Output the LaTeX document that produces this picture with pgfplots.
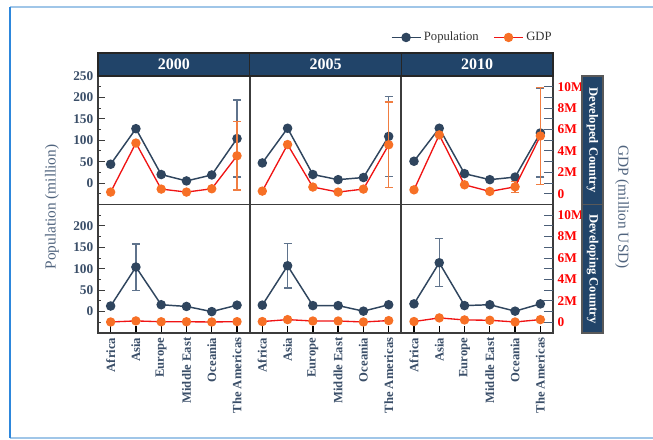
\documentclass[border=0pt]{standalone}
\usepackage{fontspec}
\setmainfont{Liberation Serif}
\usepackage{pgfplots}
\usepackage{pgfplotstable}
\pgfplotsset{compat=1.18}

\definecolor{popc}{RGB}{47,69,94}
\definecolor{poperrc}{RGB}{95,115,140}
\definecolor{gdpline}{RGB}{240,20,20}
\definecolor{gdpm}{RGB}{247,112,38}
\definecolor{gdperrc}{RGB}{240,125,65}
\definecolor{navy}{RGB}{33,68,105}
\definecolor{labc}{RGB}{58,78,104}
\definecolor{titc}{RGB}{80,100,126}
\definecolor{axgray}{RGB}{60,60,60}
\definecolor{rtick}{RGB}{75,95,120}
\definecolor{framec}{RGB}{160,198,232}
\definecolor{frameL}{RGB}{45,135,220}

% developed countries
\pgfplotstableread{
x pop poperr gdp gdperr
0 44 0 0.16 0
1 127 0 4.74 0
2 20 0 0.44 0
3 5 0 0.16 0
4 19 0 0.47 0
5 104 90 3.55 3.2
}\devA
\pgfplotstableread{
x pop poperr gdp gdperr
0 47 0 0.25 0
1 128 0 4.60 0
2 20 0 0.63 0
3 8 0 0.16 0
4 13 0 0.44 0
5 109 94 4.58 4.0
}\devB
\pgfplotstableread{
x pop poperr gdp gdperr
0 51 0 0.37 0
1 128 0 5.50 0
2 22 0 0.84 0
3 8 0 0.22 0
4 14 0 0.65 0.5
5 117 103 5.40 4.5
}\devC
% developing countries
\pgfplotstableread{
x pop poperr gdp gdperr
0 13 0 0.03 0
1 104 54 0.13 0
2 16 0 0.05 0
3 12 0 0.05 0
4 0 0 0.03 0
5 15 0 0.06 0
}\dvgA
\pgfplotstableread{
x pop poperr gdp gdperr
0 15 0 0.07 0
1 107 52 0.25 0
2 14 0 0.12 0
3 14 0 0.12 0
4 1 0 0.03 0
5 16 0 0.16 0
}\dvgB
\pgfplotstableread{
x pop poperr gdp gdperr
0 18 0 0.07 0
1 114 56 0.41 0
2 14 0 0.22 0
3 16 0 0.19 0
4 1 0 0.03 0
5 18 0 0.25 0
}\dvgC

\pgfplotsset{
  panel/.style={scale only axis, width=113.75pt, height=96.375pt,
    xmin=-0.5, xmax=5.5, clip=false,
    /pgf/number format/assume math mode=true,
    tick label style={font=\fontsize{10}{11}\selectfont\bfseries},
    tick align=inside},
  popax/.style={panel, ymin=-50, ymax=250,
    axis line style={draw=axgray, line width=1.4pt},
    ytick={0,50,...,250}, minor ytick={-25,25,...,225}, ytick pos=left,
    yticklabel style={text=labc},
    major tick length=5pt, minor tick length=2.6pt,
    y tick style={draw=axgray, line width=0.8pt}},
  gdpax/.style={panel, ymin=-1, ymax=11, axis x line=none, axis y line*=right,
    axis line style={draw=none},
    ytick={0,2,...,10}, yticklabels={0,2M,4M,6M,8M,10M}, minor ytick={1,3,...,9},
    yticklabel style={text=red},
    major tick length=6.5pt, minor tick length=6.5pt,
    y tick style={draw=rtick, line width=0.8pt}},
  noy/.style={ytick=\empty, minor ytick=\empty},
  topx/.style={xtick=\empty},
  botx/.style={xtick={0,...,5},
    xticklabels={Africa,Asia,Europe,Middle East,Oceania,The Americas},
    xtick pos=bottom,
    x tick label style={rotate=90, anchor=east, text=labc,
      font=\fontsize{9.5}{11}\selectfont\bfseries},
    x tick style={draw=black, line width=1pt}},
  popline/.style={popc, line width=1.1pt, mark=*, mark size=3pt,
    mark options={fill=popc, draw=popc}},
  gdpl/.style={gdpline, line width=1pt, mark=*, mark size=3pt,
    mark options={fill=gdpm, draw=gdpm}},
  poperr/.style={draw=none, forget plot, error bars/.cd, y dir=both, y explicit,
    error bar style={draw=poperrc, line width=0.9pt},
    error mark options={rotate=90, mark size=3pt, draw=poperrc, line width=0.9pt}},
  gdperr/.style={draw=none, forget plot, error bars/.cd, y dir=both, y explicit,
    error bar style={draw=gdperrc, line width=0.9pt},
    error mark options={rotate=90, mark size=3pt, draw=gdperrc, line width=0.9pt}},
}

\begin{document}
\begin{tikzpicture}
\path[use as bounding box] (0,0) rectangle (489.75pt,-329.25pt);

% ---- top row: developed countries
\begin{axis}[popax, topx, at={(73.5pt,-153.375pt)}, anchor=south west]
  \addplot[restrict x to domain=5:5, poperr] table[x=x, y=pop, y error=poperr]{\devA};
  \addplot[popline] table[x=x, y=pop]{\devA};
\end{axis}
\begin{axis}[gdpax, noy, at={(73.5pt,-153.375pt)}, anchor=south west]
  \addplot[restrict x to domain=5:5, gdperr] table[x=x, y=gdp, y error=gdperr]{\devA};
  \addplot[gdpl] table[x=x, y=gdp]{\devA};
\end{axis}

\begin{axis}[popax, topx, noy, at={(187.25pt,-153.375pt)}, anchor=south west]
  \addplot[restrict x to domain=5:5, poperr] table[x=x, y=pop, y error=poperr]{\devB};
  \addplot[popline] table[x=x, y=pop]{\devB};
\end{axis}
\begin{axis}[gdpax, noy, at={(187.25pt,-153.375pt)}, anchor=south west]
  \addplot[restrict x to domain=5:5, gdperr] table[x=x, y=gdp, y error=gdperr]{\devB};
  \addplot[gdpl] table[x=x, y=gdp]{\devB};
\end{axis}

\begin{axis}[popax, topx, noy, at={(301pt,-153.375pt)}, anchor=south west,
  legend columns=2,
  legend style={at={(0.47,1.30)}, anchor=center, draw=none, fill=none,
    font=\fontsize{9.5}{11}\selectfont, text=black!80,
    /tikz/every even column/.append style={column sep=9pt}},
  legend image code/.code={\draw[mark repeat=2, mark phase=2, #1]
    plot coordinates {(0cm,0cm) (0.38cm,0cm) (0.76cm,0cm)};}]
  \addplot[restrict x to domain=5:5, poperr] table[x=x, y=pop, y error=poperr]{\devC};
  \addplot[popline] table[x=x, y=pop]{\devC};
  \addlegendentry{Population}
  \addlegendimage{gdpl}
  \addlegendentry{GDP}
\end{axis}
\begin{axis}[gdpax, at={(301pt,-153.375pt)}, anchor=south west]
  \addplot[restrict x to domain=4:5, gdperr] table[x=x, y=gdp, y error=gdperr]{\devC};
  \addplot[gdpl] table[x=x, y=gdp]{\devC};
\end{axis}

% ---- bottom row: developing countries
\begin{axis}[popax, botx, yticklabels={0,50,100,150,200,{}}, at={(73.5pt,-249.75pt)}, anchor=south west]
  \addplot[restrict x to domain=1:1, poperr] table[x=x, y=pop, y error=poperr]{\dvgA};
  \addplot[popline] table[x=x, y=pop]{\dvgA};
\end{axis}
\begin{axis}[gdpax, noy, at={(73.5pt,-249.75pt)}, anchor=south west]
  \addplot[gdpl] table[x=x, y=gdp]{\dvgA};
\end{axis}

\begin{axis}[popax, botx, noy, at={(187.25pt,-249.75pt)}, anchor=south west]
  \addplot[restrict x to domain=1:1, poperr] table[x=x, y=pop, y error=poperr]{\dvgB};
  \addplot[popline] table[x=x, y=pop]{\dvgB};
\end{axis}
\begin{axis}[gdpax, noy, at={(187.25pt,-249.75pt)}, anchor=south west]
  \addplot[gdpl] table[x=x, y=gdp]{\dvgB};
\end{axis}

\begin{axis}[popax, botx, noy, at={(301pt,-249.75pt)}, anchor=south west]
  \addplot[restrict x to domain=1:1, poperr] table[x=x, y=pop, y error=poperr]{\dvgC};
  \addplot[popline] table[x=x, y=pop]{\dvgC};
\end{axis}
\begin{axis}[gdpax, at={(301pt,-249.75pt)}, anchor=south west]
  \addplot[gdpl] table[x=x, y=gdp]{\dvgC};
\end{axis}

% ---- frame, strips and titles (pixel units, y downwards)
\begin{scope}[x=0.75pt, y=-0.75pt]
  \draw[framec, line width=0.9pt] (10,7) -- (660,7);
  \draw[framec, line width=0.9pt] (10,438) -- (660,438);
  \draw[frameL, line width=0.9pt] (10,7) -- (10,438);

  \foreach \xa/\xb/\yr in {98/249.67/2000, 249.67/401.33/2005, 401.33/553/2010}{
    \draw[fill=navy, draw=black!85, line width=0.8pt] (\xa,53) rectangle (\xb,76);
    \node[text=white, font=\fontsize{12}{14}\selectfont\bfseries]
      at ({(\xa+\xb)/2},64.5) {\yr};
  }
  \draw[fill=navy, draw=black!65, line width=0.8pt] (582,76) rectangle (603,204.5);
  \draw[fill=navy, draw=black!65, line width=0.8pt] (582,204.5) rectangle (603,333);
  \node[rotate=-90, text=white, font=\fontsize{9.5}{11}\selectfont\bfseries] at (592.5,140.25) {Developed Country};
  \node[rotate=-90, text=white, font=\fontsize{9.5}{11}\selectfont\bfseries] at (592.5,268.75) {Developing Country};

  \node[rotate=90, text=titc, font=\fontsize{11.5}{13}\selectfont] at (52,207) {Population (million)};
  \node[rotate=-90, text=titc, font=\fontsize{11.5}{13}\selectfont] at (622,207) {GDP (million USD)};
\end{scope}
\end{tikzpicture}
\end{document}
